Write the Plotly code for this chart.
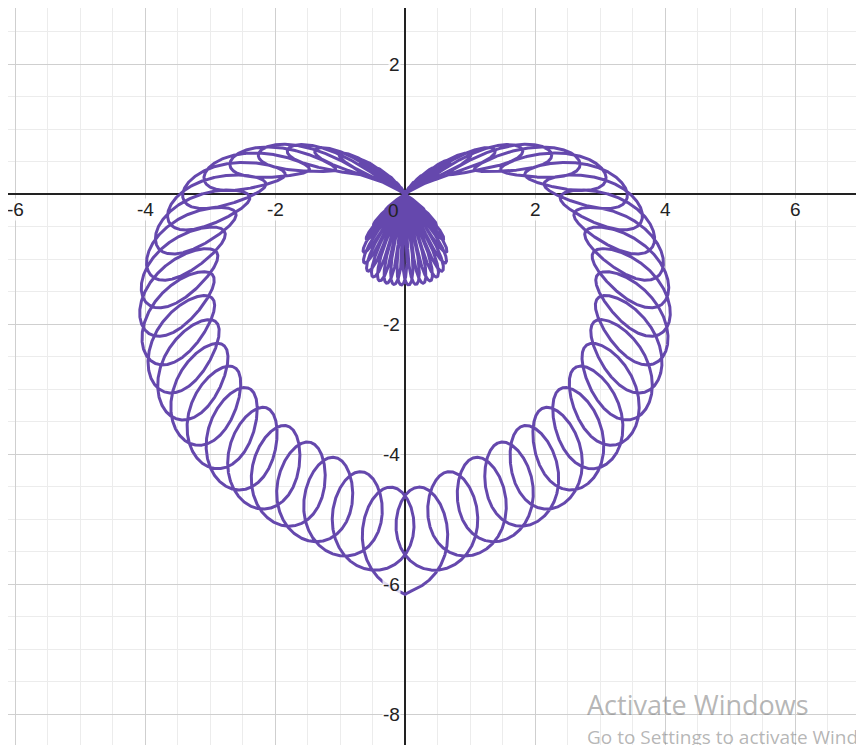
import numpy as np
import plotly.graph_objects as go

# heart curve settings
heart_size = 3.755      # cardioid size
heart_round = 0.335     # flattens the lower half
heart_point = 0.47      # sharpens the bottom tip
heart_dip = 4.0         # pulls the top lobes in toward the origin
loop_depth = 1.4        # radial depth of each loop (band width)
loop_count = 68         # loops per turn
loop_sway = 0.1         # sideways swing of each loop (radians)
loop_lean = 0.12        # inner end of a loop leans toward the top (radians)

x_ticks = [-6, -4, -2, 2, 4, 6]
y_ticks = [2, -2, -4, -6, -8]

# page has an 8px body margin, origin sits at (405, 194) px on the page, 65 px per unit
x_range = [-397 / 65, 467 / 65]
y_range = [-559 / 65, 186 / 65]

line_color = "#6548ad"

t = np.linspace(np.pi / 2, np.pi / 2 + 2 * np.pi, 40000)
s, c = np.sin(t), np.cos(t)
h = (heart_size * (1 - s) - heart_round * (1 - s) ** 2
     + heart_point * np.minimum(s, 0) * np.sqrt(np.abs(c)) / (s + 1.4)
     - heart_dip * np.maximum(s, 0) ** 2 * (1 - s))
phase = loop_count * (t - np.pi / 2)
depth = (1 - np.cos(phase)) / 2
r = h - loop_depth * depth
theta = t + loop_sway * np.sin(phase) + loop_lean * c * depth

fig = go.Figure()
fig.add_trace(go.Scatter(
    x=r * np.cos(theta), y=r * np.sin(theta),
    mode="lines",
    line=dict(color=line_color, width=3),
    hoverinfo="skip",
    showlegend=False
))

label_font = dict(family="Arial, Liberation Sans, sans-serif", size=19, color="#222222")
for v in x_ticks:
    fig.add_annotation(x=v, y=0, text=str(v), showarrow=False,
                       yanchor="top", yshift=-4, font=label_font,
                       bgcolor="rgba(255,255,255,0.8)", borderpad=0)
for v in y_ticks:
    fig.add_annotation(x=0, y=v, text=str(v), showarrow=False,
                       xanchor="right", xshift=-4, font=label_font,
                       bgcolor="rgba(255,255,255,0.8)", borderpad=0)
fig.add_annotation(x=0, y=0, text="0", showarrow=False, xanchor="right", yanchor="top",
                   xshift=-4, yshift=-4, font=label_font)

# windows watermark seen in the screenshot
fig.add_annotation(x=577 / 864, y=1 - 696 / 745, xref="paper", yref="paper", text="Activate Windows",
                   showarrow=False, xanchor="left", yanchor="middle",
                   font=dict(family="Open Sans", size=27, color="rgba(120,120,120,0.55)"))
fig.add_annotation(x=577 / 864, y=1 - 729 / 745, xref="paper", yref="paper",
                   text="Go to Settings to activate Windows.",
                   showarrow=False, xanchor="left", yanchor="middle",
                   font=dict(family="Open Sans", size=19, color="rgba(120,120,120,0.55)"))

fig.update_layout(
    width=864, height=745,
    margin=dict(l=0, r=0, t=0, b=0),
    plot_bgcolor="white", paper_bgcolor="white",
    xaxis=dict(range=x_range, dtick=2, showticklabels=False, showgrid=True,
               gridcolor="#cfcfcf", gridwidth=1,
               minor=dict(dtick=0.5, showgrid=True, gridcolor="#ececec", gridwidth=1),
               zeroline=True, zerolinecolor="#222222", zerolinewidth=2, fixedrange=True),
    yaxis=dict(range=y_range, dtick=2, showticklabels=False, showgrid=True,
               gridcolor="#cfcfcf", gridwidth=1,
               minor=dict(dtick=0.5, showgrid=True, gridcolor="#ececec", gridwidth=1),
               zeroline=True, zerolinecolor="#222222", zerolinewidth=2, fixedrange=True),
)

fig.write_html("out.html")
